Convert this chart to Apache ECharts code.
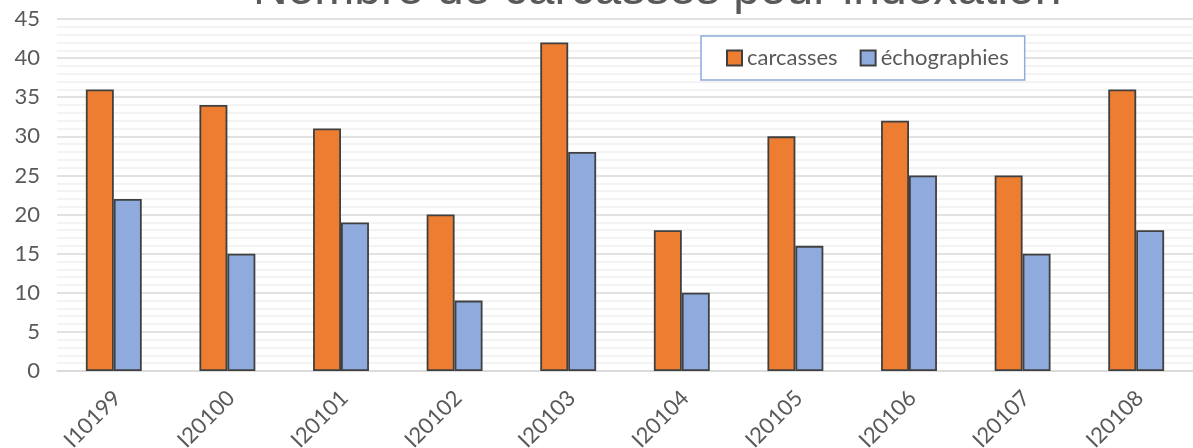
<!DOCTYPE html>
<html><head><meta charset="utf-8">
<script src="https://cdn.jsdelivr.net/npm/echarts@6/dist/echarts.min.js"></script>
<style>html,body{margin:0;padding:0;background:#fff}#c{width:1193px;height:448px}</style>
</head><body><div id="c"></div>
<script>
const categories = ['I10199','I20100','I20101','I20102','I20103','I20104','I20105','I20106','I20107','I20108'];
const carcasses = [36,34,31,20,42,18,30,32,25,36];
const echographies = [22,15,19,9,28,10,16,25,15,18];
const titleText = 'Nombre de carcasses pour indexation';
const FONT = 'Lato';
const chart = echarts.init(document.getElementById('c'));
chart.setOption({
  animation: false,
  title: {
    text: titleText, left: 248, top: -38,
    textStyle: {fontFamily: 'Liberation Sans', fontSize: 48, fontWeight: 'normal', color: '#595959'}
  },
  legend: {
    left: 701, top: 36, width: 330, height: 45,
    padding: [11, 16, 11, 25],
    borderColor: '#8faadc', borderWidth: 1.5, backgroundColor: '#fff',
    itemWidth: 15, itemHeight: 15, itemGap: 22, icon: 'rect',
    textStyle: {fontFamily: FONT, fontSize: 22, color: '#595959'}
  },
  grid: {left: 57, right: 0, top: 19, bottom: 77, containLabel: false, outerBoundsMode: 'none'},
  xAxis: {
    type: 'category', data: categories,
    axisLine: {show: true, lineStyle: {color: '#d9d9d9', width: 1.5}},
    axisTick: {show: false},
    axisLabel: {rotate: 45, margin: 20, verticalAlign: 'top', lineHeight: 10, fontFamily: FONT, fontSize: 22, color: '#595959', interval: 0}
  },
  yAxis: {
    type: 'value', min: 0, max: 45, interval: 5,
    axisLine: {show: false}, axisTick: {show: false},
    axisLabel: {fontFamily: FONT, fontSize: 22, color: '#595959', margin: 17},
    splitLine: {lineStyle: {color: '#d9d9d9', width: 1.5}},
    minorTick: {show: false, splitNumber: 5},
    minorSplitLine: {show: true, lineStyle: {color: '#f0f0f0', width: 1.5}}
  },
  series: [
    {name: 'carcasses', type: 'bar', data: carcasses, barWidth: '24.6%', barGap: '0%',
     itemStyle: {color: '#ed7d31', borderColor: '#404040', borderWidth: 1.8}},
    {name: 'échographies', type: 'bar', data: echographies, barWidth: '24.6%', barGap: '0%',
     itemStyle: {color: '#8faadc', borderColor: '#404040', borderWidth: 1.8}}
  ]
});
</script></body></html>
